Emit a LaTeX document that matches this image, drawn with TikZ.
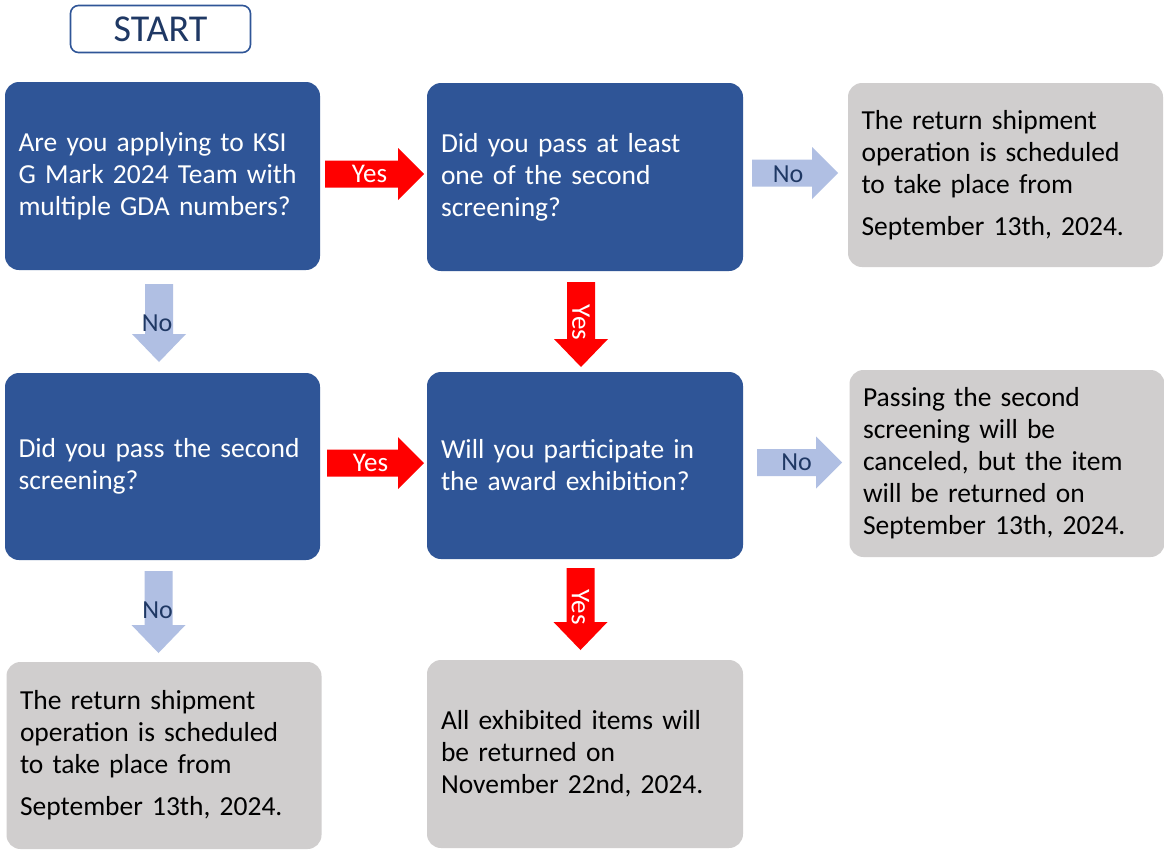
\documentclass[tikz,border=0pt]{standalone}
\usepackage{fontspec}
\setmainfont{Carlito}
\usetikzlibrary{calc}
\definecolor{boxblue}{HTML}{2F5597}
\definecolor{boxgrey}{HTML}{D0CECE}
\definecolor{navy}{HTML}{1F3864}
\definecolor{lightarr}{HTML}{B0BFE3}
\definecolor{arrred}{HTML}{FF0000}
\newcommand\harr[5]{% xstart, xend, ycenter, fill colour, name
  \fill[#4] (#1,#3-13.5) -- (#2-26,#3-13.5) -- (#2-26,#3-26) -- (#2,#3)
     -- (#2-26,#3+26) -- (#2-26,#3+13.5) -- (#1,#3+13.5) -- cycle;
  \coordinate (#5) at ({(#1+#2)/2},#3);}
\newcommand\varr[5]{% ystart, yend, xcenter, fill colour, name
  \fill[#4] (#3-14,#1) -- (#3-14,#2-28) -- (#3-27,#2-28) -- (#3,#2)
     -- (#3+27,#2-28) -- (#3+14,#2-28) -- (#3+14,#1) -- cycle;
  \coordinate (#5) at (#3,{(#1+#2)/2});}
\newcommand\li[1]{\mbox{#1}}
\tikzset{
  qbox/.style={rectangle, rounded corners=14pt, fill=boxblue, text=white,
    minimum width=315pt, minimum height=188pt, text width=288pt,
    inner xsep=13.5pt, align=left, font=\fontsize{27.5}{32}\selectfont},
  abox/.style={qbox, fill=boxgrey, text=black},
  yeslab/.style={text=white, font=\fontsize{27}{28}\selectfont, inner sep=0pt},
  nolab/.style={text=navy, font=\fontsize{26}{28}\selectfont, inner sep=0pt},
}
\begin{document}
\begin{tikzpicture}[x=1pt,y=-1pt]
\useasboundingbox[fill=white] (0,0) rectangle (1164,849);
% start
\node[draw=boxblue, line width=1.6pt, rounded corners=8pt, fill=white,
  minimum width=180pt, minimum height=47pt, text=navy,
  font=\fontsize{38}{40}\selectfont] (start) at (160.5,29) {START};
% question boxes
\node[qbox] (A) at (162.5,176) {\li{Are you applying to KSI}\\\li{G Mark 2024 Team with}\\\li{multiple GDA numbers?}};
\node[qbox, minimum width=316pt] (B) at (585,177) {\li{Did you pass at least}\\\li{one of the second}\\\li{screening?}};
\node[abox, minimum height=184pt] (C) at (1005.5,175) {\li{The return shipment}\\\li{operation is scheduled}\\\li{to take place from}\\[10pt]\li{September 13th, 2024.}};
\node[qbox, minimum height=187pt] (D) at (162.5,466.5) {\li{Did you pass the second}\\\li{screening?}};
\node[qbox, minimum width=316pt, minimum height=187pt] (E) at (585,465.5) {\li{Will you participate in}\\\li{the award exhibition?}};
\node[abox, minimum width=314pt, minimum height=187pt] (F) at (1007,463.5) {\li{Passing the second}\\\li{screening will be}\\\li{canceled, but the item}\\\li{will be returned on}\\\li{September 13th, 2024.}};
\node[abox, minimum width=314pt, minimum height=187pt] (G) at (164,755.5) {\li{The return shipment}\\\li{operation is scheduled}\\\li{to take place from}\\[10pt]\li{September 13th, 2024.}};
\node[abox, minimum width=316pt] (H) at (585,754) {\li{All exhibited items will}\\\li{be returned on}\\\li{November 22nd, 2024.}};
% arrows
\harr{325}{424}{174}{arrred}{r1}
\node[yeslab] (r1l) at ($(r1)+(-5,0)$) {Yes};
\harr{752}{838}{173}{lightarr}{r2}
\node[nolab] (r2l) at ($(r2)+(-7,1)$) {No};
\harr{327}{424}{463}{arrred}{r3}
\node[yeslab] (r3l) at ($(r3)+(-5,0)$) {Yes};
\harr{757}{842}{462.5}{lightarr}{r4}
\node[nolab] (r4l) at ($(r4)+(-3,0)$) {No};
\varr{284}{362}{159}{lightarr}{d1}
\node[nolab] (d1l) at ($(d1)+(-2,0)$) {No};
\varr{282}{367}{581}{arrred}{d2}
\node[yeslab, rotate=-90] (d2l) at ($(d2)+(0,-2)$) {Yes};
\varr{571}{653}{158.5}{lightarr}{d3}
\node[nolab] (d3l) at ($(d3)+(-1,-2)$) {No};
\varr{568}{650}{580.5}{arrred}{d4}
\node[yeslab, rotate=-90] (d4l) at ($(d4)+(0,-2)$) {Yes};
\end{tikzpicture}
\end{document}
